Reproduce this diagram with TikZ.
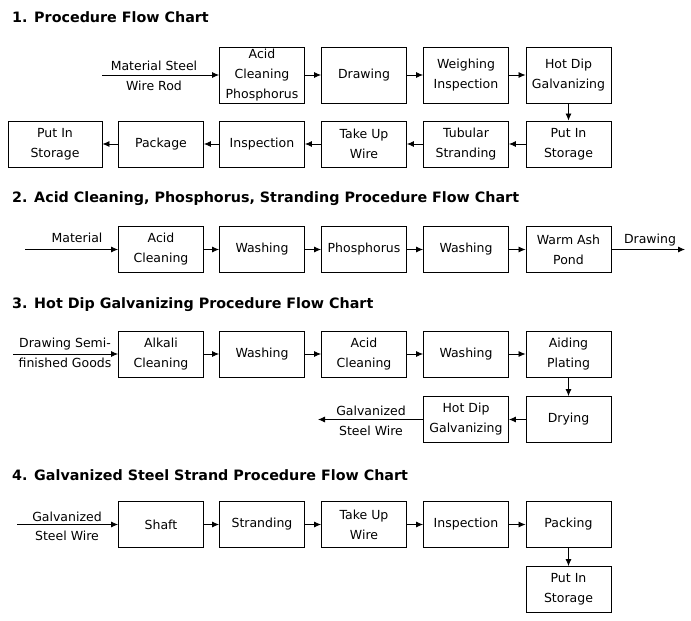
\documentclass[tikz,border=0pt]{standalone}
\usepackage{fontspec}
\setmainfont{DejaVu Sans}
\usetikzlibrary{arrows.meta}
\tikzset{
  stepbox/.style={draw,line width=0.9pt,minimum width=85pt,minimum height=46pt,inner sep=0pt,align=center,font=\fontsize{12.5}{20}\selectfont},
  tallbox/.style={stepbox,minimum height=56pt},
  flow/.style={-{Latex[length=7pt,width=6pt]},line width=0.8pt},
  lbl/.style={anchor=base,inner sep=0pt,font=\fontsize{12.5}{20}\selectfont},
  title/.style={anchor=base west,inner sep=0pt,font=\fontsize{14.3}{17}\selectfont\bfseries}
}
\begin{document}
\begin{tikzpicture}[x=1pt,y=-1pt]
    \useasboundingbox[fill=white] (0,0) rectangle (691,621);

    \node[title] (t1) at (12,23) {1. Procedure Flow Chart};
    \node[tallbox] (acidA) at (262,75) {Acid\\Cleaning\\Phosphorus};
    \node[tallbox] (drawA) at (364,75) {Drawing};
    \node[tallbox] (weighA) at (466,75) {Weighing\\Inspection};
    \node[tallbox] (hotA) at (568.5,75) {Hot Dip\\Galvanizing};
    \node[stepbox] (storeA) at (568.5,144) {Put In\\Storage};
    \node[stepbox] (tubeA) at (466,144) {Tubular\\Stranding};
    \node[stepbox] (takeA) at (364,144) {Take Up\\Wire};
    \node[stepbox] (inspA) at (262,144) {Inspection};
    \node[stepbox] (packA) at (161,144) {Package};
    \node[stepbox,minimum width=94pt] (endA) at (55,144) {Put In\\Storage};
    \coordinate (inA) at (102,75);
    \node[lbl] at (154,70) {Material Steel};
    \node[lbl] at (154,90) {Wire Rod};
    \draw[flow] (inA) -- (acidA);
    \draw[flow] (acidA) -- (drawA);
    \draw[flow] (drawA) -- (weighA);
    \draw[flow] (weighA) -- (hotA);
    \draw[flow] (hotA) -- (storeA);
    \draw[flow] (storeA) -- (tubeA);
    \draw[flow] (tubeA) -- (takeA);
    \draw[flow] (takeA) -- (inspA);
    \draw[flow] (inspA) -- (packA);
    \draw[flow] (packA) -- (endA);

    \node[title] (t2) at (12,202) {2. Acid Cleaning, Phosphorus, Stranding Procedure Flow Chart};
    \node[stepbox] (acidB) at (161,249.5) {Acid\\Cleaning};
    \node[stepbox] (washB) at (262,249.5) {Washing};
    \node[stepbox] (phosB) at (364,249.5) {Phosphorus};
    \node[stepbox] (washC) at (466,249.5) {Washing};
    \node[stepbox] (pondB) at (568.5,249.5) {Warm Ash\\Pond};
    \coordinate (inB) at (25,249.5);
    \coordinate (outB) at (685,249.5);
    \node[lbl] at (77,242) {Material};
    \node[lbl] at (650,243) {Drawing};
    \draw[flow] (inB) -- (acidB);
    \draw[flow] (acidB) -- (washB);
    \draw[flow] (washB) -- (phosB);
    \draw[flow] (phosB) -- (washC);
    \draw[flow] (washC) -- (pondB);
    \draw[flow] (pondB) -- (outB);

    \node[title] (t3) at (12,308) {3. Hot Dip Galvanizing Procedure Flow Chart};
    \node[stepbox] (alkC) at (161,354) {Alkali\\Cleaning};
    \node[stepbox] (washD) at (262,354) {Washing};
    \node[stepbox] (acidC) at (364,354) {Acid\\Cleaning};
    \node[stepbox] (washE) at (466,354) {Washing};
    \node[stepbox] (aidC) at (568.5,354) {Aiding\\Plating};
    \node[stepbox] (dryC) at (568.5,419.5) {Drying};
    \node[stepbox] (hotC) at (466,419.5) {Hot Dip\\Galvanizing};
    \coordinate (inC) at (13,354);
    \coordinate (outC) at (318,419.5);
    \node[lbl] at (65,347) {Drawing Semi-};
    \node[lbl] at (65,367) {finished Goods};
    \node[lbl] at (371,415) {Galvanized};
    \node[lbl] at (371,435) {Steel Wire};
    \draw[flow] (inC) -- (alkC);
    \draw[flow] (alkC) -- (washD);
    \draw[flow] (washD) -- (acidC);
    \draw[flow] (acidC) -- (washE);
    \draw[flow] (washE) -- (aidC);
    \draw[flow] (aidC) -- (dryC);
    \draw[flow] (dryC) -- (hotC);
    \draw[flow] (hotC) -- (outC);

    \node[title] (t4) at (12,480) {4. Galvanized Steel Strand Procedure Flow Chart};
    \node[stepbox] (shaftD) at (161,524.5) {Shaft};
    \node[stepbox] (strandD) at (262,524.5) {Stranding};
    \node[stepbox] (takeD) at (364,524.5) {Take Up\\Wire};
    \node[stepbox] (inspD) at (466,524.5) {Inspection};
    \node[stepbox] (packD) at (568.5,524.5) {Packing};
    \node[stepbox] (storeD) at (568.5,589.5) {Put In\\Storage};
    \coordinate (inD) at (17,524.5);
    \node[lbl] at (67,521) {Galvanized};
    \node[lbl] at (67,540) {Steel Wire};
    \draw[flow] (inD) -- (shaftD);
    \draw[flow] (shaftD) -- (strandD);
    \draw[flow] (strandD) -- (takeD);
    \draw[flow] (takeD) -- (inspD);
    \draw[flow] (inspD) -- (packD);
    \draw[flow] (packD) -- (storeD);

\end{tikzpicture}
\end{document}
